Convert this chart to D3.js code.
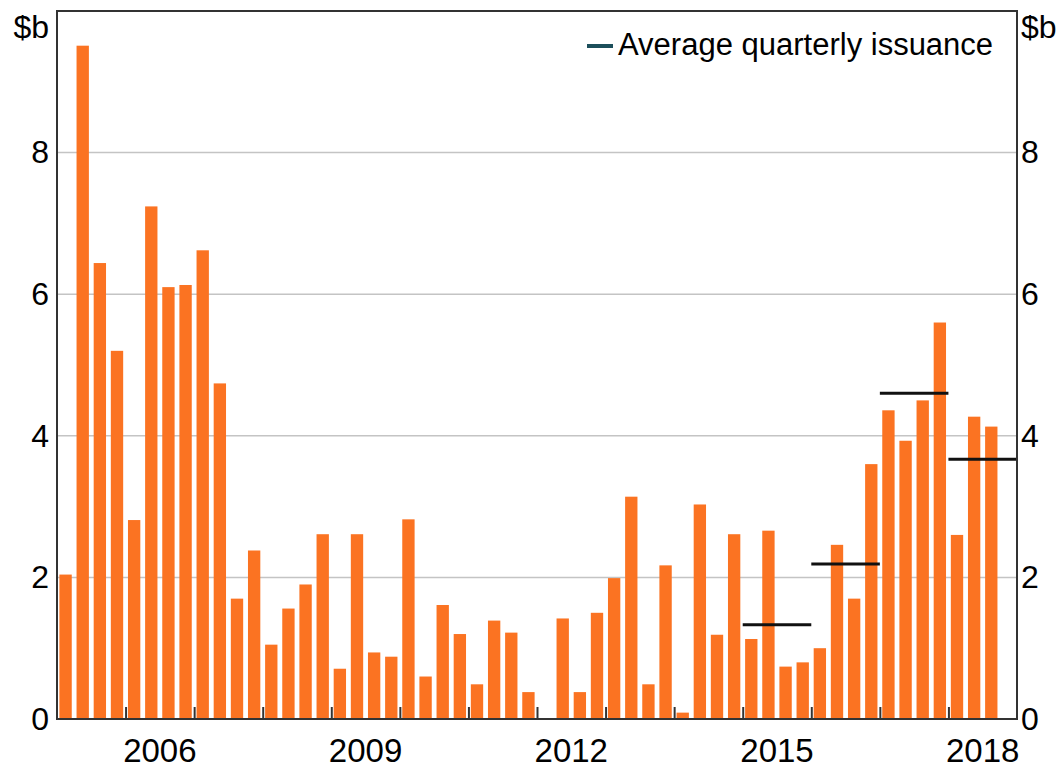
<!DOCTYPE html>
<html>
<head>
<meta charset="utf-8">
<script src="https://cdn.jsdelivr.net/npm/d3@7"></script>
<style>
  body { margin: 0; background: #fff; }
  text { font-family: Arial, "Liberation Sans", sans-serif; fill: #000; }
</style>
</head>
<body>
<svg id="chart"></svg>
<script>
// quarterly issuance, $b (2005 Q1 to 2018 Q3, 2018 Q4 not yet reported)
const years = [2005, 2006, 2007, 2008, 2009, 2010, 2011, 2012, 2013, 2014, 2015, 2016, 2017, 2018];
const quarters = years.flatMap(yr => ["Q1", "Q2", "Q3", "Q4"].map(q => yr + q));
const issuance = [
  2.04, 9.51, 6.44, 5.20,
  2.81, 7.24, 6.10, 6.13,
  6.62, 4.74, 1.70, 2.38,
  1.05, 1.56, 1.90, 2.61,
  0.71, 2.61, 0.94, 0.88,
  2.82, 0.60, 1.61, 1.20,
  0.49, 1.39, 1.22, 0.38,
  0.00, 1.42, 0.38, 1.50,
  1.99, 3.14, 0.49, 2.17,
  0.09, 3.03, 1.19, 2.61,
  1.13, 2.66, 0.74, 0.80,
  1.00, 2.46, 1.70, 3.60,
  4.36, 3.93, 4.50, 5.60,
  2.60, 4.27, 4.13
];
// average quarterly issuance per year
const avgYears = [2015, 2016, 2017, 2018];
const avgIssuance = [1.33, 2.19, 4.60, 3.67];
const labelYears = [2006, 2009, 2012, 2015, 2018];
const yTicks = [0, 2, 4, 6, 8];

const W = 1059, H = 769;
const margin = {top: 11, right: 42, bottom: 50, left: 57},
    width = W - margin.left - margin.right,
    height = H - margin.top - margin.bottom;

const svg = d3.select("#chart")
    .attr("width", W)
    .attr("height", H)
  .append("g")
    .attr("transform", "translate(" + margin.left + "," + margin.top + ")");

const x = d3.scaleBand()
    .domain(quarters)
    .range([0, width])
    .paddingInner(0.28)
    .paddingOuter(0.14);
const t = d3.scaleLinear().domain([2005, 2019]).range([0, width]);
const y = d3.scaleLinear().domain([0, 10]).range([height, 0]);

// gridlines
svg.append("g")
  .selectAll("line")
  .data(yTicks.filter(d => d > 0))
  .join("line")
    .attr("x1", 0).attr("x2", width)
    .attr("y1", d => y(d)).attr("y2", d => y(d))
    .attr("stroke", "#c4c4c4")
    .attr("stroke-width", 1.5);

// bars
svg.append("g")
  .selectAll("rect")
  .data(issuance.map((v, i) => ({q: quarters[i], v: v})))
  .join("rect")
    .attr("x", d => x(d.q))
    .attr("y", d => y(d.v))
    .attr("width", x.bandwidth())
    .attr("height", d => height - y(d.v))
    .attr("fill", "#fb7322");

// yearly averages
svg.append("g")
  .selectAll("line")
  .data(avgYears.map((yr, i) => ({yr: yr, v: avgIssuance[i]})))
  .join("line")
    .attr("x1", d => t(d.yr)).attr("x2", d => t(d.yr + 1))
    .attr("y1", d => y(d.v)).attr("y2", d => y(d.v))
    .attr("stroke", "#111")
    .attr("stroke-width", 3);

// year tick marks (inside, pointing up)
const xAxis = svg.append("g")
    .attr("transform", "translate(0," + height + ")")
    .call(d3.axisBottom(t).tickValues(d3.range(2006, 2019)).tickSize(-12).tickFormat(""));
xAxis.select(".domain").remove();
xAxis.selectAll("line").attr("stroke", "#333").attr("stroke-width", 2);

// year labels, centred on each year
svg.append("g")
  .selectAll("text")
  .data(labelYears)
  .join("text")
    .attr("x", d => t(d + 0.5))
    .attr("y", height + 43)
    .attr("text-anchor", "middle")
    .attr("font-size", 33)
    .text(d => d);

// left and right value axes
const yLeft = svg.append("g")
    .call(d3.axisLeft(y).tickValues(yTicks).tickSize(0).tickPadding(8));
const yRight = svg.append("g")
    .attr("transform", "translate(" + width + ",0)")
    .call(d3.axisRight(y).tickValues(yTicks).tickSize(0).tickPadding(4));
[yLeft, yRight].forEach(a => {
  a.select(".domain").remove();
  a.attr("font-size", 32).attr("font-family", null);
  a.selectAll("text").attr("fill", "#000");
});

svg.append("text").attr("x", -8).attr("y", 27).attr("text-anchor", "end")
    .attr("font-size", 32).text("$b");
svg.append("text").attr("x", width + 4).attr("y", 27)
    .attr("font-size", 32).text("$b");

// frame
svg.append("rect")
    .attr("x", 0).attr("y", 0)
    .attr("width", width).attr("height", height)
    .attr("fill", "none")
    .attr("stroke", "#333")
    .attr("stroke-width", 2);

// legend
svg.append("line")
    .attr("x1", 530).attr("x2", 556)
    .attr("y1", 35).attr("y2", 35)
    .attr("stroke", "#1c4f5b")
    .attr("stroke-width", 4);
svg.append("text")
    .attr("x", 561).attr("y", 44)
    .attr("font-size", 31)
    .text("Average quarterly issuance");
</script>
</body>
</html>
